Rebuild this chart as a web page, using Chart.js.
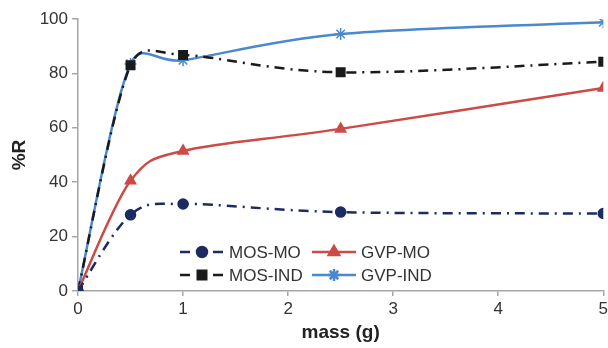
<!DOCTYPE html>
<html>
<head>
<meta charset="utf-8">
<script src="https://cdn.jsdelivr.net/npm/chart.js@4.4.0/dist/chart.umd.min.js"></script>
<style>
  html, body { margin: 0; padding: 0; background: #fff; overflow: hidden; }
  #wrap { width: 611px; height: 348px; position: relative; }
</style>
</head>
<body>
<div id="wrap"><canvas id="chart"></canvas></div>
<script>
// data
const masses = [0, 0.5, 1, 2.5, 5];
const mosMO = [0, 28, 32, 29, 28.5];
const gvpMO = [0, 40.5, 51.5, 59.6, 74.6];
const mosIND = [0, 83, 86.8, 80.4, 84.3];
const gvpIND = [0, 83.5, 84.8, 94.5, 98.8];
const seriesNames = ['MOS-MO', 'GVP-MO', 'MOS-IND', 'GVP-IND'];
const xTicks = [0, 1, 2, 3, 4, 5];
const yTicks = [0, 20, 40, 60, 80, 100];

const FONT = '"Liberation Sans", Arial, sans-serif';
const pts = vals => masses.map((m, i) => ({ x: m, y: vals[i] }));

const styles = {
    'MOS-MO': { color: '#1d2b63', dash: [10, 6, 2, 6], point: 'circle', radius: 5 },
    'GVP-MO': { color: '#cc4b47', dash: [], point: 'triangle', radius: 6 },
    'MOS-IND': { color: '#1a1a1a', dash: [10, 6, 2, 6], point: 'rect', radius: 6 },
    'GVP-IND': { color: '#4a88cf', dash: [], point: 'star', radius: 6 }
};
const values = { 'MOS-MO': mosMO, 'GVP-MO': gvpMO, 'MOS-IND': mosIND, 'GVP-IND': gvpIND };

// Excel-like smoothing: Catmull-Rom tangents, each handle capped at half its segment
const smoothPlugin = {
    id: 'excelSmooth',
    beforeDatasetDraw(chart, args) {
        const line = args.meta.dataset;
        const p = args.meta.data;
        const n = p.length;
        const dist = (a, b) => Math.hypot(b.x - a.x, b.y - a.y);
        line.updateControlPoints(chart.chartArea, 'x');
        for (let i = 0; i < n; i++) {
            const prev = p[Math.max(i - 1, 0)];
            const next = p[Math.min(i + 1, n - 1)];
            const vx = next.x - prev.x, vy = next.y - prev.y;
            const len = Math.hypot(vx, vy) || 1;
            const fin = Math.min(1 / 6, dist(prev, p[i]) / 2 / len);
            const fout = Math.min(1 / 6, dist(p[i], next) / 2 / len);
            p[i].cp1x = p[i].x - vx * fin; p[i].cp1y = p[i].y - vy * fin;
            p[i].cp2x = p[i].x + vx * fout; p[i].cp2y = p[i].y + vy * fout;
        }
        line._path = undefined;
    }
};

// legend drawn inside the plot area, two columns
const legendPlugin = {
    id: 'innerLegend',
    afterDraw(chart) {
        const ctx = chart.ctx;
        const cells = [
            { name: 'MOS-MO', x: 180, y: 252 },
            { name: 'GVP-MO', x: 312, y: 252 },
            { name: 'MOS-IND', x: 180, y: 275 },
            { name: 'GVP-IND', x: 312, y: 275 }
        ];
        cells.forEach(c => {
            const s = styles[c.name];
            ctx.save();
            ctx.strokeStyle = s.color;
            ctx.fillStyle = s.color;
            ctx.lineWidth = 2.5;
            ctx.beginPath();
            if (s.dash.length) {
                ctx.moveTo(c.x, c.y); ctx.lineTo(c.x + 10, c.y);
                ctx.moveTo(c.x + 33, c.y); ctx.lineTo(c.x + 43, c.y);
            } else {
                ctx.moveTo(c.x, c.y); ctx.lineTo(c.x + 44, c.y);
            }
            ctx.stroke();
            Chart.helpers.drawPoint(ctx, {
                pointStyle: s.point, radius: s.radius, borderWidth: 1.5, rotation: 0
            }, c.x + 22, c.y);
            ctx.fillStyle = '#333';
            ctx.font = '17px ' + FONT;
            ctx.textBaseline = 'middle';
            ctx.fillText(c.name, c.x + 49, c.y + 1);
            ctx.restore();
        });
    }
};

const datasets = seriesNames.map(name => {
    const s = styles[name];
    return {
        label: name,
        data: pts(values[name]),
        borderColor: s.color,
        backgroundColor: s.color,
        borderWidth: 2.5,
        borderDash: s.dash,
        pointStyle: s.point,
        pointRadius: s.radius,
        pointBorderWidth: 1.5,
        pointBorderColor: s.color,
        pointBackgroundColor: s.color,
        tension: 0.4,
        capBezierPoints: false,
        fill: false
    };
});

new Chart(document.getElementById('chart'), {
    type: 'line',
    data: { datasets },
    options: {
        responsive: true,
        maintainAspectRatio: false,
        animation: false,
        layout: { padding: { top: 19, right: 0, left: 0, bottom: 0 } },
        plugins: { legend: { display: false }, tooltip: { enabled: false } },
        scales: {
            x: {
                type: 'linear', min: 0, max: 5,
                afterBuildTicks: s => { s.ticks = xTicks.map(v => ({ value: v })); },
                afterFit: s => { s.height = 57; },
                border: { color: '#a6a6a6', width: 1.5 },
                grid: { drawOnChartArea: false, color: '#a6a6a6', tickLength: 5, lineWidth: 1.5 },
                ticks: { color: '#333', font: { family: FONT, size: 17 }, padding: 3 },
                title: { display: true, text: 'mass (g)', color: '#222', font: { family: FONT, size: 19, weight: 'bold' }, padding: { top: 0 } }
            },
            y: {
                min: 0, max: 100,
                afterBuildTicks: s => { s.ticks = yTicks.map(v => ({ value: v })); },
                afterFit: s => { s.width = 78; s.paddingTop = 0; s.paddingBottom = 0; },
                border: { color: '#a6a6a6', width: 1.5 },
                grid: { drawOnChartArea: false, color: '#a6a6a6', tickLength: 6, lineWidth: 1.5 },
                ticks: { color: '#333', font: { family: FONT, size: 17 }, padding: 4 },
                title: { display: true, text: '%R', color: '#222', font: { family: FONT, size: 19, weight: 'bold' }, padding: { top: 8, bottom: 0 } }
            }
        }
    },
    plugins: [smoothPlugin, legendPlugin]
});
</script>
</body>
</html>
